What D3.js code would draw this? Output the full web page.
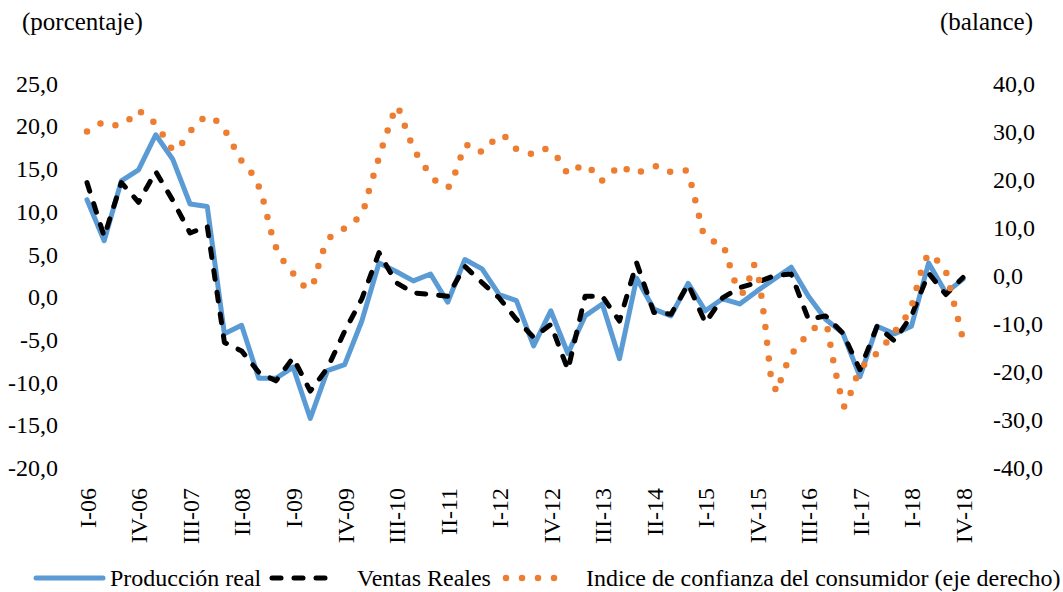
<!DOCTYPE html>
<html>
<head>
<meta charset="utf-8">
<script src="https://cdn.jsdelivr.net/npm/d3@7"></script>
<style>
	body { margin: 0; background: #fff; }
	text { font-family: "Liberation Serif", "Times New Roman", serif; fill: #000; }
</style>
</head>
<body>
<div id="chart-area"></div>
<script>
// Quarters I-06 ... IV-18
var quarters = [
	"I-06", "II-06", "III-06", "IV-06", "I-07", "II-07", "III-07", "IV-07",
	"I-08", "II-08", "III-08", "IV-08", "I-09", "II-09", "III-09", "IV-09",
	"I-10", "II-10", "III-10", "IV-10", "I-11", "II-11", "III-11", "IV-11",
	"I-12", "II-12", "III-12", "IV-12", "I-13", "II-13", "III-13", "IV-13",
	"I-14", "II-14", "III-14", "IV-14", "I-15", "II-15", "III-15", "IV-15",
	"I-16", "II-16", "III-16", "IV-16", "I-17", "II-17", "III-17", "IV-17",
	"I-18", "II-18", "III-18", "IV-18"
];

// only every third quarter gets a label
var quarterTicks = [
	"I-06", "IV-06", "III-07", "II-08", "I-09", "IV-09", "III-10", "II-11", "I-12",
	"IV-12", "III-13", "II-14", "I-15", "IV-15", "III-16", "II-17", "I-18", "IV-18"
];

// Producción real (%), quarterly
var produccion = [
	11.4, 6.6, 13.6, 14.9, 19.0, 16.1, 10.9, 10.6,
	-4.3, -3.3, -9.5, -9.5, -8.2, -14.2, -8.6, -7.9,
	-2.8, 4.0, 3.0, 1.9, 2.7, -0.6, 4.4, 3.3,
	0.3, -0.4, -5.7, -1.6, -6.6, -2.2, -0.8, -7.2,
	2.2, -1.4, -2.2, 1.6, -1.6, -0.2, -0.8, 0.7,
	2.1, 3.5, 0.1, -2.6, -4.2, -9.3, -3.4, -4.3,
	-3.4, 4.0, 0.5, 2.1
];

// Ventas Reales (%), quarterly
var ventas = [
	13.4, 7.1, 13.4, 11.1, 14.7, 11.3, 7.5, 8.3,
	-5.3, -6.3, -8.8, -9.8, -7.1, -11.0, -8.3, -4.0,
	-0.2, 5.2, 1.7, 0.5, 0.3, 0.1, 3.6, 1.7,
	-0.1, -2.6, -4.7, -3.2, -8.5, 0.1, 0.1, -2.8,
	4.0, -1.8, -2.0, 1.5, -3.0, -0.1, 1.1, 1.7,
	2.5, 2.7, -2.6, -2.2, -4.2, -8.5, -3.4, -5.1,
	-2.2, 2.8, 0.3, 2.3
];

// Indice de confianza del consumidor (balance), monthly Jan-06 ... Dec-18
var confianza = [
	30.0, 30.6, 31.5, 32.0, 31.7, 31.3, 31.6, 31.9, 33.2, 34.4, 33.7, 33.0,
	31.7, 30.2, 28.1, 26.4, 26.1, 27.9, 29.6, 31.1, 32.2, 33.2, 32.7, 32.2,
	30.8, 29.2, 26.8, 24.5, 22.8, 21.6, 19.8, 16.6, 11.9, 7.2, 4.3, 2.7,
	1.2, -0.3, -1.7, -2.7, -1.9, 2.3, 6.0, 8.0, 8.8, 9.5, 10.1, 10.9,
	12.1, 13.9, 18.2, 22.0, 25.9, 29.5, 33.1, 35.3, 32.0, 28.7, 26.0, 24.0,
	22.3, 20.6, 19.4, 18.5, 18.5, 20.9, 24.3, 27.3, 26.9, 25.8, 25.9, 26.6,
	28.4, 29.2, 28.9, 27.6, 26.3, 25.9, 25.5, 25.3, 25.8, 26.4, 26.0, 25.2,
	22.8, 21.4, 21.3, 22.6, 23.1, 22.5, 20.9, 19.7, 20.4, 21.5, 22.9, 22.7,
	21.6, 21.3, 21.7, 22.1, 22.5, 22.9, 22.3, 21.7, 21.5, 21.7, 21.9, 18.8,
	13.9, 9.0, 7.7, 7.1, 7.0, 5.1, 1.0, -2.5, -3.6, -1.3, 2.4, -1.2,
	-10.3, -21.0, -24.2, -20.9, -17.8, -15.8, -14.2, -12.9, -11.7, -10.6, -10.2, -10.8,
	-17.4, -23.1, -27.3, -24.8, -21.5, -19.3, -17.8, -16.9, -15.9, -14.5, -13.1, -11.5,
	-10.0, -8.4, -5.9, -1.7, 2.7, 4.6, 3.6, 2.6, 0.8, -3.9, -8.4, -13.3
];

var leftTicks = [-20, -15, -10, -5, 0, 5, 10, 15, 20, 25];
var rightTicks = [-40, -30, -20, -10, 0, 10, 20, 30, 40];

var seriesNames = [
	"Producción real",
	"Ventas Reales",
	"Indice de confianza del consumidor (eje derecho)"
];

/*
 * ComboChart - two quarterly series on the left axis, one monthly series on the right axis
 */

ComboChart = function (_parentElement) {
	this.parentElement = _parentElement;
	this.initVis();
};

ComboChart.prototype.initVis = function () {
	var vis = this;
	vis.width = 1063;
	vis.height = 592;
	vis.plot = { left: 87, right: 963, top: 83.5, bottom: 468 };
	vis.fontSize = 24;

	vis.svg = d3
		.select("#" + vis.parentElement)
		.append("svg")
		.attr("width", vis.width)
		.attr("height", vis.height);

	// spanish number format: comma decimal, plain hyphen minus
	vis.fmt = d3
		.formatLocale({ decimal: ",", thousands: ".", grouping: [3], currency: ["", ""], minus: "-" })
		.format(".1f");

	// Scales
	vis.x = d3.scalePoint().domain(quarters).range([vis.plot.left, vis.plot.right]);
	vis.xMonth = d3
		.scaleLinear()
		.domain([0, confianza.length - 1])
		.range([vis.plot.left, vis.plot.right]);
	vis.yLeft = d3.scaleLinear().domain([-20, 25]).range([vis.plot.bottom, vis.plot.top]);
	vis.yRight = d3.scaleLinear().domain([-40, 40]).range([vis.plot.bottom, vis.plot.top]);

	vis.updateVis();
};

ComboChart.prototype.updateVis = function () {
	var vis = this;

	// Axes
	var leftAxis = vis.svg
		.append("g")
		.attr("transform", "translate(62,0)")
		.call(d3.axisLeft(vis.yLeft).tickValues(leftTicks).tickSize(0).tickPadding(4).tickFormat(vis.fmt));

	var rightAxis = vis.svg
		.append("g")
		.attr("transform", "translate(989,0)")
		.call(d3.axisRight(vis.yRight).tickValues(rightTicks).tickSize(0).tickPadding(4).tickFormat(vis.fmt));

	var bottomAxis = vis.svg
		.append("g")
		.attr("transform", "translate(0," + vis.plot.bottom + ")")
		.call(d3.axisBottom(vis.x).tickValues(quarterTicks).tickSize(0));

	bottomAxis
		.selectAll("text")
		.attr("transform", "rotate(-90)")
		.attr("x", -20)
		.attr("y", 0)
		.attr("dy", "0.35em")
		.style("text-anchor", "end");

	[leftAxis, rightAxis, bottomAxis].forEach((g) => {
		g.select(".domain").remove();
		g.selectAll("text")
			.attr("font-family", null)
			.style("font-size", vis.fontSize + "px")
			.style("fill", "#000");
		g.attr("font-family", null).attr("font-size", null);
	});

	// Axis titles
	vis.svg
		.append("text")
		.attr("x", 22)
		.attr("y", 30)
		.style("font-size", "25px")
		.text("(porcentaje)");

	vis.svg
		.append("text")
		.attr("x", 1033)
		.attr("y", 30)
		.style("font-size", "25px")
		.style("text-anchor", "end")
		.text("(balance)");

	// Lines
	var lineLeft = d3
		.line()
		.x((d, i) => vis.x(quarters[i]))
		.y((d) => vis.yLeft(d));

	var lineRight = d3
		.line()
		.x((d, i) => vis.xMonth(i))
		.y((d) => vis.yRight(d));

	vis.styles = [
		{ color: "#5B9BD5", width: 5, dash: null, cap: "round" },
		{ color: "#000000", width: 5, dash: "9 13", cap: "round" },
		{ color: "#ED7D31", width: 6.5, dash: "0 15.8", cap: "round" }
	];

	var paths = [lineLeft(produccion), lineLeft(ventas), lineRight(confianza)];

	paths.forEach((p, i) => {
		var s = vis.styles[i];
		vis.svg
			.append("path")
			.attr("d", p)
			.attr("fill", "none")
			.attr("stroke", s.color)
			.attr("stroke-width", s.width)
			.attr("stroke-linecap", s.cap)
			.attr("stroke-linejoin", "round")
			.attr("stroke-dasharray", s.dash);
	});

	// Legend
	var legendY = 578;
	var legendItems = [
		{ x0: 36, x1: 103, tx: 110 },
		{ x0: 272, x1: 336, tx: 357 },
		{ x0: 506, x1: 570, tx: 586 }
	];

	legendItems.forEach((item, i) => {
		var s = vis.styles[i];
		vis.svg
			.append("line")
			.attr("x1", item.x0)
			.attr("x2", item.x1)
			.attr("y1", legendY)
			.attr("y2", legendY)
			.attr("stroke", s.color)
			.attr("stroke-width", s.width)
			.attr("stroke-linecap", s.cap)
			.attr("stroke-dasharray", i == 2 ? "0 16" : s.dash);

		vis.svg
			.append("text")
			.attr("x", item.tx)
			.attr("y", legendY)
			.attr("dy", "0.32em")
			.style("font-size", vis.fontSize + "px")
			.text(seriesNames[i]);
	});
};

var chart = new ComboChart("chart-area");
</script>
</body>
</html>
